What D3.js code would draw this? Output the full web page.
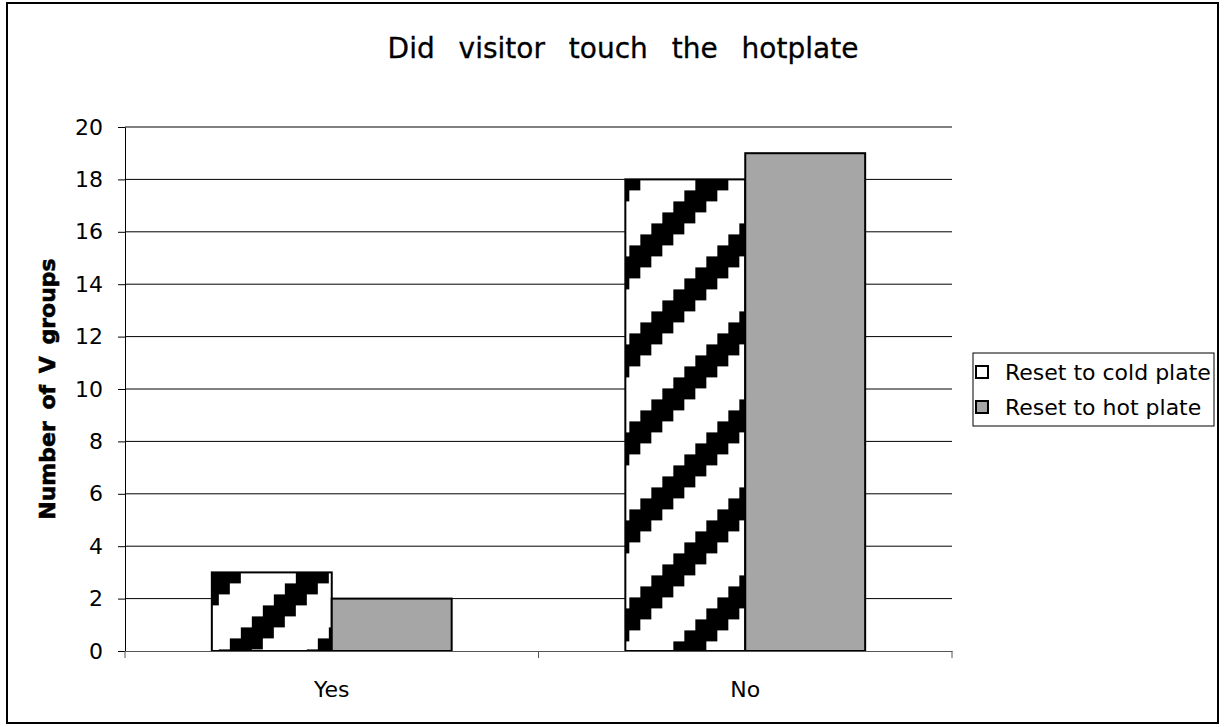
<!DOCTYPE html>
<html>
<head>
<meta charset="utf-8">
<script src="https://cdn.jsdelivr.net/npm/d3@7"></script>
<style>
  html, body { margin: 0; padding: 0; background: #fff; }
  svg { display: block; font-family: "DejaVu Sans", Verdana, sans-serif; }
</style>
</head>
<body>
<svg id="chart" width="1225" height="727"></svg>
<script>
const chartTitle = "Did visitor touch the hotplate";
const yAxisTitle = "Number of V groups";
const categories = ["Yes", "No"];
const seriesNames = ["Reset to cold plate", "Reset to hot plate"];
const coldValues = [3, 18];
const hotValues = [2, 19];
const yTicks = [0, 2, 4, 6, 8, 10, 12, 14, 16, 18, 20];

const svg = d3.select("#chart");
const plot = { left: 125, right: 952, top: 127, bottom: 651 };

// outer border
svg.append("rect").attr("x", 7).attr("y", 3).attr("width", 1211).attr("height", 720)
  .attr("fill", "#fff").attr("stroke", "#000").attr("stroke-width", 2);

const x0 = d3.scaleBand().domain(categories).range([plot.left, plot.right])
  .paddingInner(0.42).paddingOuter(0.21);
const x1 = d3.scaleBand().domain(seriesNames).range([0, x0.bandwidth()]);
const y = d3.scaleLinear().domain([0, 20]).range([plot.bottom, plot.top]);

// gridlines
svg.append("g").selectAll("line").data(yTicks.filter(d => d > 0)).join("line")
  .attr("x1", plot.left).attr("x2", plot.right)
  .attr("y1", d => y(d)).attr("y2", d => y(d))
  .attr("stroke", "#000").attr("stroke-width", 1);

// patterns (one per bar, tiled from the bar's top)
const defs = svg.append("defs");
const pix = 11, patShift = [4, 18];
categories.forEach((c, i) => {
  const bx = x0(c) + x1(seriesNames[0]);
  const p = defs.append("pattern").attr("id", "pat" + i)
    .attr("patternUnits", "userSpaceOnUse")
    .attr("x", bx - patShift[i]).attr("y", y(coldValues[i]))
    .attr("width", pix * 8).attr("height", pix * 8);
  p.append("rect").attr("width", pix * 8).attr("height", pix * 8).attr("fill", "#fff");
  for (let r = 0; r < 8; r++) {
    for (let k = 0; k < 3; k++) {
      const col = (k - r + 8) % 8;
      p.append("rect").attr("x", col * pix).attr("y", r * pix)
        .attr("width", pix).attr("height", pix).attr("fill", "#000")
        .attr("shape-rendering", "crispEdges");
    }
  }
});

const rows = categories.map((c, i) => ({ cat: c, i, vals: [coldValues[i], hotValues[i]] }));
const g = svg.append("g");
rows.forEach(row => {
  row.vals.forEach((v, s) => {
    g.append("rect")
      .attr("x", x0(row.cat) + x1(seriesNames[s]))
      .attr("y", y(v))
      .attr("width", x1.bandwidth())
      .attr("height", y(0) - y(v))
      .attr("fill", s === 0 ? `url(#pat${row.i})` : "#a6a6a6")
      .attr("stroke", "#000").attr("stroke-width", 2);
  });
});

// y axis
const yAxis = svg.append("g").attr("transform", `translate(${plot.left},0)`)
  .call(d3.axisLeft(y).tickValues(yTicks).tickSize(7).tickPadding(15).tickSizeOuter(0));
yAxis.select(".domain").attr("stroke", "#000");
yAxis.selectAll(".tick line").attr("stroke", "#000");
yAxis.selectAll("text").attr("font-size", 22).attr("fill", "#000")
  .attr("font-family", "DejaVu Sans, Verdana, sans-serif");

// x axis
const xAxis = svg.append("g").attr("transform", `translate(0,${plot.bottom})`)
  .call(d3.axisBottom(x0).tickSize(0).tickPadding(30));
xAxis.select(".domain").attr("stroke", "#555");
xAxis.selectAll("text").attr("font-size", 22).attr("fill", "#000")
  .attr("font-family", "DejaVu Sans, Verdana, sans-serif");
// category separator ticks
const sepTicks = [plot.left].concat(categories.map(c => x0(c) + x0.bandwidth() + x0.step() * x0.paddingInner() / 2));
svg.append("g").selectAll("line").data(sepTicks).join("line")
  .attr("x1", d => d).attr("x2", d => d)
  .attr("y1", plot.bottom).attr("y2", plot.bottom + 7)
  .attr("stroke", "#555").attr("stroke-width", 1);

// title
svg.append("text").attr("x", 623).attr("y", 58).attr("text-anchor", "middle")
  .attr("font-size", 28).attr("word-spacing", 15).attr("fill", "#000")
  .attr("stroke", "#000").attr("stroke-width", 0.3)
  .text(chartTitle);

// y axis title
svg.append("text").attr("transform", `translate(55,389) rotate(-90)`)
  .attr("text-anchor", "middle").attr("font-size", 22).attr("font-weight", "bold")
  .attr("word-spacing", 4).attr("fill", "#000")
  .attr("stroke", "#000").attr("stroke-width", 0.6)
  .text(yAxisTitle);

// legend
const lg = svg.append("g");
lg.append("rect").attr("x", 973).attr("y", 353).attr("width", 241).attr("height", 73)
  .attr("fill", "#fff").attr("stroke", "#000").attr("stroke-width", 1);
seriesNames.forEach((name, s) => {
  const cy = 372 + s * 35;
  lg.append("rect").attr("x", 976).attr("y", cy - 6).attr("width", 12).attr("height", 12)
    .attr("fill", s === 0 ? "#fff" : "#a6a6a6").attr("stroke", "#000").attr("stroke-width", 2);
  lg.append("text").attr("x", 1005).attr("y", cy).attr("dy", "0.36em")
    .attr("font-size", 22).attr("fill", "#000").text(name);
});
</script>
</body>
</html>
